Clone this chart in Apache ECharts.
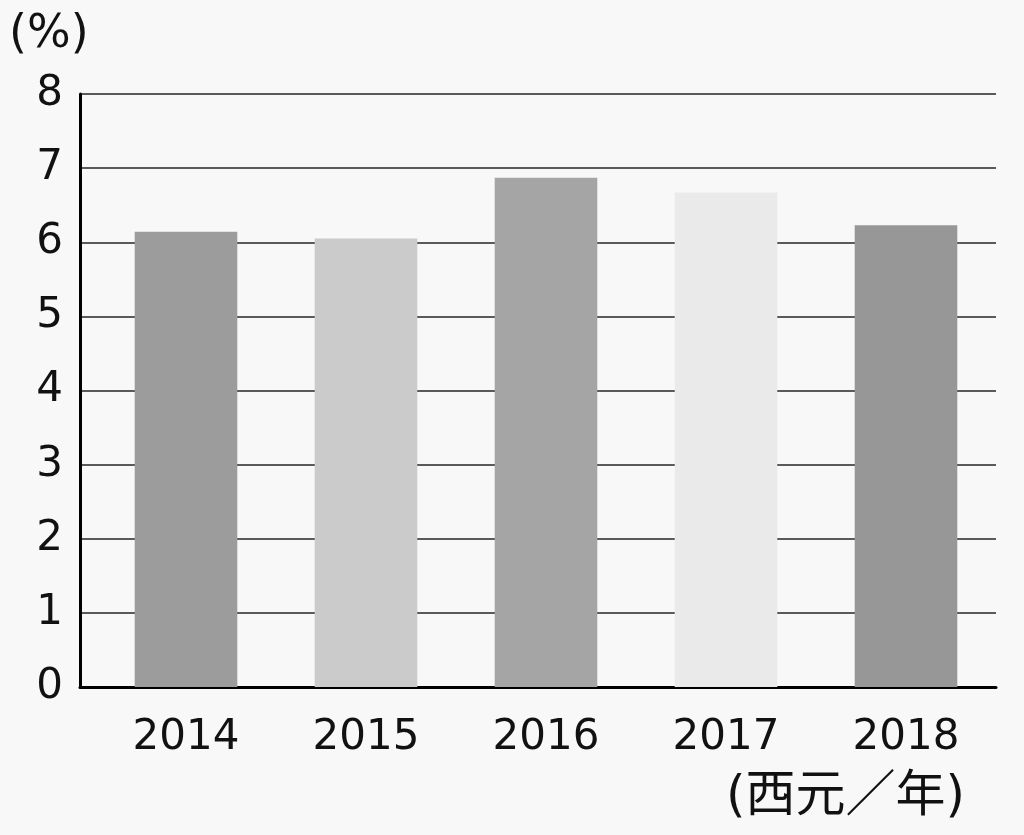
<!DOCTYPE html>
<html><head><meta charset="utf-8">
<script src="https://cdn.jsdelivr.net/npm/echarts@6/dist/echarts.min.js"></script>
<style>html,body{margin:0;padding:0;background:#f8f8f8}#c{width:1024px;height:835px}</style>
</head><body><div id="c"></div>
<script>
const categories = ['2014','2015','2016','2017','2018'];
const values = [6.14, 6.05, 6.87, 6.67, 6.23];
const barColors = ['#9c9c9c','#cbcbcb','#a5a5a5','#eaeaea','#979797'];
const yUnit = '(%)';
const xUnit = '(西元／年)';
const font = '"DejaVu Sans", "Noto Sans CJK JP", sans-serif';
const chart = echarts.init(document.getElementById('c'), null, {renderer:'canvas'});
chart.setOption({
  backgroundColor:'#f8f8f8',
  animation:false,
  grid:[
    {left:80,right:28,top:94,bottom:148},
    {left:96,right:28,top:94,bottom:148}
  ],
  graphic:[
    {type:'text',left:9,top:12,style:{text:yUnit,font:'46px '+font,fill:'#111'}},
    {type:'text',left:726,top:773,style:{text:xUnit,font:'50px '+font,fill:'#111'}}
  ],
  xAxis:[
    {type:'value',gridIndex:0,min:0,max:1,
      axisLine:{show:true,onZero:false,lineStyle:{color:'#000',width:3}},
      axisTick:{show:false},axisLabel:{show:false},splitLine:{show:false}},
    {type:'category',gridIndex:1,data:categories,
      axisLine:{show:false},axisTick:{show:false},
      axisLabel:{fontSize:42,color:'#111',fontFamily:font,margin:30}}
  ],
  yAxis:[
    {type:'value',gridIndex:0,min:0,max:8,interval:1,
      axisLine:{show:true,lineStyle:{color:'#000',width:3}},
      axisTick:{show:false},
      splitLine:{lineStyle:{color:'#5a5a5a',width:2}},
      axisLabel:{fontSize:42,color:'#111',fontFamily:font,margin:17}},
    {type:'value',gridIndex:1,min:0,max:8,interval:1,show:false,splitLine:{show:false}}
  ],
  series:[{type:'bar',xAxisIndex:1,yAxisIndex:1,barWidth:'57%',
    data:values.map((v,i)=>({value:v,itemStyle:{color:barColors[i]}}))}]
});
</script></body></html>
